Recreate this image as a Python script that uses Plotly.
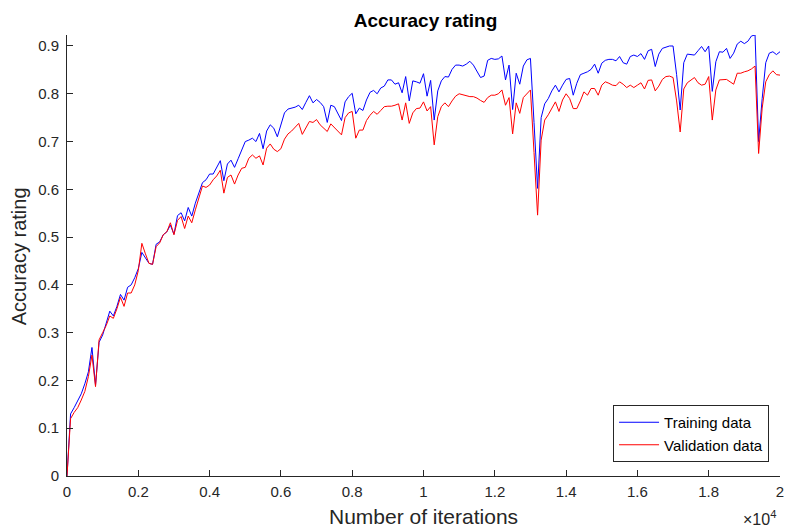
import plotly.graph_objects as go

# Iteration count at each evaluation (every 100 iterations, 0 .. 20000)
iterations = list(range(0, 20001, 100))

# Accuracy on the training set at each evaluation
train_acc = [
    0.0,
    0.13, 0.143, 0.157, 0.172, 0.193, 0.218, 0.269, 0.19, 0.28,
    0.295, 0.32, 0.345, 0.335, 0.355, 0.38, 0.368, 0.395, 0.40, 0.415,
    0.434, 0.468, 0.455, 0.445, 0.443, 0.485, 0.49, 0.505, 0.511, 0.525,
    0.506, 0.545, 0.551, 0.534, 0.562, 0.544, 0.571, 0.595, 0.614, 0.62,
    0.632, 0.632, 0.647, 0.66, 0.618, 0.653, 0.661, 0.646, 0.664, 0.684,
    0.70, 0.703, 0.707, 0.70, 0.717, 0.685, 0.722, 0.735, 0.728, 0.71,
    0.735, 0.76, 0.768, 0.77, 0.772, 0.776, 0.767, 0.782, 0.796, 0.781,
    0.788, 0.782, 0.773, 0.74, 0.776, 0.773, 0.76, 0.744, 0.783, 0.794,
    0.801, 0.758, 0.77, 0.765, 0.787, 0.803, 0.807, 0.80, 0.812, 0.816,
    0.829, 0.829, 0.82, 0.823, 0.802, 0.836, 0.785, 0.827, 0.825, 0.822,
    0.842, 0.795, 0.828, 0.745, 0.806, 0.827, 0.836, 0.835, 0.851, 0.86,
    0.86, 0.858, 0.862, 0.868, 0.86, 0.846, 0.834, 0.837, 0.87, 0.874,
    0.872, 0.873, 0.879, 0.829, 0.86, 0.767, 0.843, 0.82, 0.858, 0.871,
    0.874, 0.74, 0.602, 0.75, 0.779, 0.79, 0.806, 0.818, 0.804, 0.818,
    0.83, 0.832, 0.797, 0.822, 0.84, 0.843, 0.846, 0.851, 0.862, 0.843,
    0.864, 0.87, 0.872, 0.872, 0.869, 0.878, 0.865, 0.862, 0.878, 0.881,
    0.878, 0.884, 0.872, 0.89, 0.893, 0.857, 0.883, 0.895, 0.898, 0.90,
    0.90, 0.84, 0.766, 0.865, 0.883, 0.882, 0.881, 0.89, 0.899, 0.888,
    0.90, 0.805, 0.867, 0.888, 0.887, 0.895, 0.874, 0.885, 0.904, 0.91,
    0.905, 0.91, 0.921, 0.923, 0.70, 0.79, 0.865, 0.885, 0.888, 0.882,
    0.888,
]

# Accuracy on the validation set at each evaluation
val_acc = [
    0.0,
    0.12, 0.133, 0.143, 0.159, 0.177, 0.208, 0.253, 0.187, 0.285,
    0.30, 0.315, 0.335, 0.33, 0.35, 0.374, 0.355, 0.383, 0.383, 0.40,
    0.43, 0.487, 0.465, 0.445, 0.443, 0.48, 0.488, 0.505, 0.511, 0.53,
    0.505, 0.535, 0.543, 0.518, 0.544, 0.53, 0.557, 0.585, 0.607, 0.604,
    0.609, 0.62, 0.628, 0.64, 0.592, 0.625, 0.63, 0.611, 0.63, 0.644,
    0.646, 0.665, 0.672, 0.665, 0.67, 0.651, 0.686, 0.695, 0.684, 0.679,
    0.685, 0.705, 0.716, 0.722, 0.73, 0.738, 0.715, 0.73, 0.742, 0.74,
    0.746, 0.735, 0.728, 0.721, 0.737, 0.73, 0.722, 0.714, 0.75, 0.76,
    0.763, 0.707, 0.724, 0.724, 0.744, 0.755, 0.763, 0.757, 0.765, 0.773,
    0.774, 0.774, 0.776, 0.779, 0.745, 0.781, 0.738, 0.76, 0.769, 0.77,
    0.783, 0.764, 0.773, 0.693, 0.752, 0.773, 0.781, 0.773, 0.785, 0.795,
    0.80, 0.798, 0.795, 0.794, 0.794, 0.791, 0.786, 0.782, 0.792, 0.797,
    0.797, 0.80, 0.808, 0.776, 0.792, 0.716, 0.781, 0.759, 0.792, 0.80,
    0.808, 0.677, 0.546, 0.703, 0.745, 0.756, 0.77, 0.783, 0.763, 0.787,
    0.80, 0.79, 0.769, 0.769, 0.785, 0.804, 0.797, 0.811, 0.811, 0.797,
    0.818, 0.825, 0.822, 0.818, 0.817, 0.825, 0.82, 0.813, 0.818, 0.813,
    0.818, 0.823, 0.81, 0.828, 0.829, 0.806, 0.816, 0.83, 0.836, 0.837,
    0.834, 0.785, 0.72, 0.81, 0.823, 0.828, 0.834, 0.823, 0.818, 0.82,
    0.836, 0.745, 0.808, 0.829, 0.829, 0.83, 0.825, 0.82, 0.843, 0.843,
    0.846, 0.848, 0.852, 0.858, 0.675, 0.77, 0.825, 0.84, 0.848, 0.84,
    0.839,
]

x_tick_vals = [0, 2000, 4000, 6000, 8000, 10000, 12000, 14000, 16000, 18000, 20000]
x_tick_text = ["0", "0.2", "0.4", "0.6", "0.8", "1", "1.2", "1.4", "1.6", "1.8", "2"]
y_tick_vals = [0, 0.1, 0.2, 0.3, 0.4, 0.5, 0.6, 0.7, 0.8, 0.9]
y_tick_text = ["0", "0.1", "0.2", "0.3", "0.4", "0.5", "0.6", "0.7", "0.8", "0.9"]

FONT = "Liberation Sans, Arial, Helvetica, sans-serif"
AXIS_COLOR = "#262626"

L, R, T, B = 67, 3, 35, 53
W, H = 787, 529
PW, PH = W - L - R, H - T - B


def px_x(px):
    """Paper x for a pixel column."""
    return (px - L) / PW


def px_y(py):
    """Paper y for a pixel row."""
    return (H - B - py) / PH


fig = go.Figure()
fig.add_trace(go.Scatter(x=iterations, y=train_acc, mode="lines", name="Training data",
                         line=dict(color="#0000FF", width=1)))
fig.add_trace(go.Scatter(x=iterations, y=val_acc, mode="lines", name="Validation data",
                         line=dict(color="#FF0000", width=1)))

axis_common = dict(showline=True, linecolor=AXIS_COLOR, linewidth=1, ticks="inside",
                   ticklen=6, tickcolor=AXIS_COLOR, showgrid=False, zeroline=False,
                   mirror=False, ticklabeloverflow="allow",
                   tickfont=dict(family=FONT, size=15, color=AXIS_COLOR))

fig.update_layout(
    width=W, height=H,
    margin=dict(l=L, r=R, t=T, b=B),
    paper_bgcolor="white", plot_bgcolor="white",
    font=dict(family=FONT, color=AXIS_COLOR),
    title=dict(text="<b>Accuracy rating</b>", x=(L + W - R) / 2 / W, xanchor="center",
               y=1 - 20 / H, yanchor="middle", yref="container",
               font=dict(family=FONT, size=19, color="black")),
    xaxis=dict(range=[0, 20000], tickvals=x_tick_vals, ticktext=x_tick_text,
               ticklabelstandoff=2, **axis_common),
    yaxis=dict(range=[0, max(train_acc)], tickvals=y_tick_vals, ticktext=y_tick_text,
               ticklabelstandoff=4, **axis_common),
    legend=dict(x=px_x(773), y=px_y(462), xanchor="right", yanchor="bottom",
                bgcolor="white", bordercolor=AXIS_COLOR, borderwidth=1,
                font=dict(family=FONT, size=15, color="black"),
                tracegroupgap=0, itemwidth=40),
    showlegend=True,
)

# Axis titles
fig.add_annotation(text="Number of iterations", xref="paper", yref="paper",
                   x=0.5, y=px_y(516), xanchor="center", yanchor="middle", showarrow=False,
                   font=dict(family=FONT, size=21, color=AXIS_COLOR))
fig.add_annotation(text="Accuracy rating", xref="paper", yref="paper",
                   x=px_x(19), y=px_y(256), xanchor="center", yanchor="middle",
                   textangle=-90, showarrow=False,
                   font=dict(family=FONT, size=20, color=AXIS_COLOR))

# Exponent marker for the x axis
fig.add_annotation(text="×10<sup>4</sup>", xref="paper", yref="paper",
                   x=px_x(782), y=px_y(518), xanchor="right", yanchor="middle", showarrow=False,
                   font=dict(family=FONT, size=16, color=AXIS_COLOR))

fig.write_html("out.html")
